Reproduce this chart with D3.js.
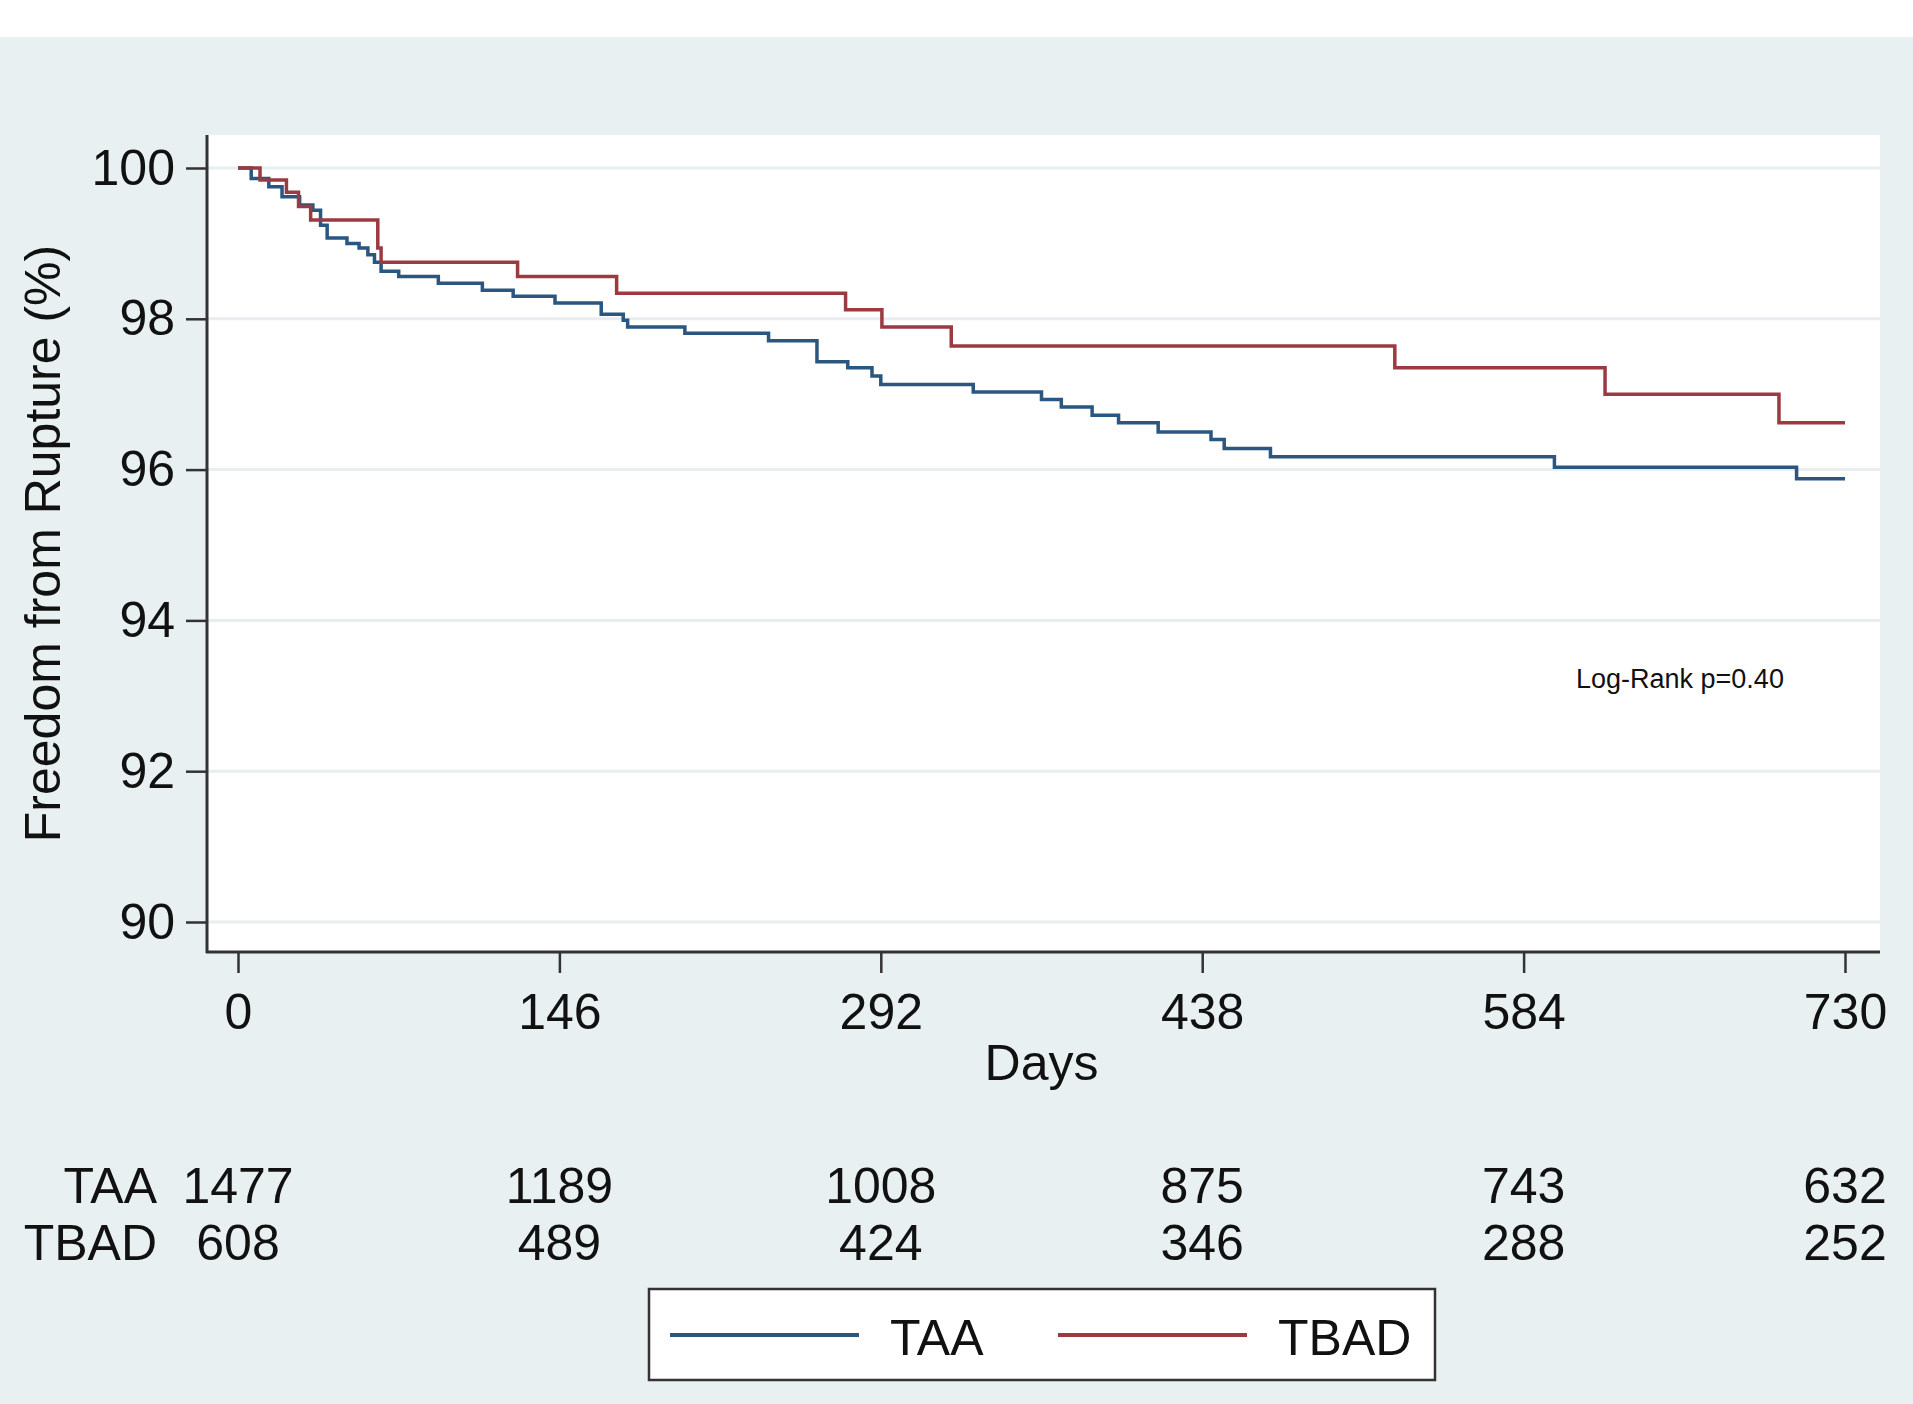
<!DOCTYPE html>
<html>
<head>
<meta charset="utf-8">
<script src="https://cdn.jsdelivr.net/npm/d3@7"></script>
<style>
  body { margin: 0; background: #fff; }
  svg text { font-family: "Liberation Sans", Arial, sans-serif; fill: #111; }
</style>
</head>
<body>
<svg id="km" width="1913" height="1404"></svg>
<script>
// Kaplan-Meier freedom from rupture, TAA vs TBAD

// step times (days) and survival (%)
var taaDays = [0, 6, 14, 20, 28, 34, 37.5, 40.5, 49.5, 55, 59, 62, 65, 73, 91, 111, 125, 144, 165, 175, 177, 203, 241, 263, 277, 288, 292, 334, 365, 374, 388, 400, 418, 442, 448, 469, 598, 708];
var taaSurv = [100, 99.86, 99.75, 99.62, 99.51, 99.44, 99.24, 99.07, 99.0, 98.94, 98.85, 98.75, 98.63, 98.56, 98.47, 98.38, 98.30, 98.21, 98.06, 97.98, 97.89, 97.81, 97.71, 97.43, 97.35, 97.24, 97.13, 97.03, 96.93, 96.83, 96.72, 96.62, 96.50, 96.40, 96.28, 96.17, 96.03, 95.88];

var tbadDays = [0, 10, 22, 27.5, 33, 63.5, 65, 127, 172, 276, 292.5, 324, 525.5, 621, 700];
var tbadSurv = [100, 99.84, 99.68, 99.49, 99.31, 98.94, 98.75, 98.56, 98.34, 98.12, 97.89, 97.64, 97.35, 97.0, 96.62];

var endDay = 730;

var xTicks = [0, 146, 292, 438, 584, 730];
var yTicks = [90, 92, 94, 96, 98, 100];

var groups = ["TAA", "TBAD"];
var taaRisk = [1477, 1189, 1008, 875, 743, 632];
var tbadRisk = [608, 489, 424, 346, 288, 252];

var colors = {TAA: "#2a5680", TBAD: "#9c3a41"};

var svg = d3.select("#km"),
    plot = {left: 207, right: 1880, top: 135, bottom: 952};

// backgrounds
svg.append("rect").attr("x", 0).attr("y", 37).attr("width", 1913).attr("height", 1367).attr("fill", "#e8f0f2");
svg.append("rect")
    .attr("x", plot.left).attr("y", plot.top)
    .attr("width", plot.right - plot.left).attr("height", plot.bottom - plot.top)
    .attr("fill", "#fff");

var x = d3.scaleLinear().domain([0, 730]).range([238, 1845]);
var y = d3.scaleLinear().domain([90, 100]).range([922, 168]);

// grid lines
svg.append("g")
  .selectAll("line")
  .data(yTicks)
  .enter().append("line")
    .attr("x1", plot.left).attr("x2", plot.right)
    .attr("y1", function(d) { return y(d); })
    .attr("y2", function(d) { return y(d); })
    .attr("stroke", "#e8edf0")
    .attr("stroke-width", 3);

// axes
var yAxis = svg.append("g")
    .attr("transform", "translate(" + plot.left + ",0)")
    .call(d3.axisLeft(y).tickValues(yTicks).tickSize(21).tickPadding(11));

var xAxis = svg.append("g")
    .attr("transform", "translate(0," + plot.bottom + ")")
    .call(d3.axisBottom(x).tickValues(xTicks).tickFormat(d3.format("d")).tickSize(21).tickPadding(20));

[yAxis, xAxis].forEach(function(a) {
  a.select(".domain").remove();
  a.selectAll(".tick line").attr("stroke", "#333").attr("stroke-width", 2.5);
  a.selectAll(".tick text").attr("font-size", 50).attr("fill", "#111")
    .style("font-family", "'Liberation Sans', Arial, sans-serif");
});

svg.append("line")
    .attr("x1", plot.left).attr("x2", plot.left)
    .attr("y1", plot.top).attr("y2", plot.bottom + 1)
    .attr("stroke", "#333").attr("stroke-width", 3);
svg.append("line")
    .attr("x1", plot.left - 1).attr("x2", plot.right)
    .attr("y1", plot.bottom).attr("y2", plot.bottom)
    .attr("stroke", "#333").attr("stroke-width", 3);

// axis titles
svg.append("text")
    .attr("transform", "translate(60," + (plot.top + plot.bottom) / 2 + ") rotate(-90)")
    .attr("text-anchor", "middle")
    .attr("font-size", 50)
    .text("Freedom from Rupture (%)");

svg.append("text")
    .attr("x", (x(0) + x(730)) / 2)
    .attr("y", 1080)
    .attr("text-anchor", "middle")
    .attr("font-size", 50)
    .text("Days");

// survival curves
var line = d3.line()
    .x(function(d) { return x(d[0]); })
    .y(function(d) { return y(d[1]); })
    .curve(d3.curveStepAfter);

function steps(days, surv) {
  var pts = days.map(function(d, i) { return [d, surv[i]]; });
  pts.push([endDay, surv[surv.length - 1]]);
  return pts;
}

var curves = [
  {key: "TAA", pts: steps(taaDays, taaSurv)},
  {key: "TBAD", pts: steps(tbadDays, tbadSurv)}
];

svg.append("g")
  .selectAll("path")
  .data(curves)
  .enter().append("path")
    .attr("d", function(d) { return line(d.pts); })
    .attr("fill", "none")
    .attr("stroke", function(d) { return colors[d.key]; })
    .attr("stroke-width", 3.5);

svg.append("text")
    .attr("x", 1576)
    .attr("y", 688)
    .attr("font-size", 27)
    .text("Log-Rank p=0.40");

// number at risk table
var riskRows = [taaRisk, tbadRisk],
    rowY = [1203, 1260];

var risk = svg.append("g").attr("font-size", 50);

risk.selectAll(".rowlabel")
  .data(groups)
  .enter().append("text")
    .attr("class", "rowlabel")
    .attr("x", 157)
    .attr("y", function(d, i) { return rowY[i]; })
    .attr("text-anchor", "end")
    .text(function(d) { return d; });

riskRows.forEach(function(row, r) {
  risk.selectAll(".n" + r)
    .data(row)
    .enter().append("text")
      .attr("class", "n" + r)
      .attr("x", function(d, i) { return x(xTicks[i]); })
      .attr("y", rowY[r])
      .attr("text-anchor", "middle")
      .text(function(d) { return d; });
});

// legend
var legend = svg.append("g");
legend.append("rect")
    .attr("x", 649).attr("y", 1289)
    .attr("width", 786).attr("height", 91)
    .attr("fill", "#fff")
    .attr("stroke", "#333")
    .attr("stroke-width", 2.5);

var legendX = [670, 1058];
var item = legend.selectAll(".item")
  .data(groups)
  .enter().append("g")
    .attr("class", "item")
    .attr("transform", function(d, i) { return "translate(" + legendX[i] + ",1335)"; });

item.append("line")
    .attr("x1", 0).attr("x2", 189)
    .attr("stroke", function(d) { return colors[d]; })
    .attr("stroke-width", 4);

item.append("text")
    .attr("x", 220)
    .attr("y", 20)
    .attr("font-size", 50)
    .text(function(d) { return d; });
</script>
</body>
</html>
